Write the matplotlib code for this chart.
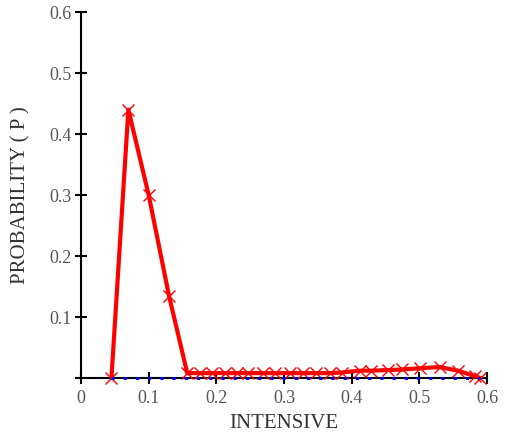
import matplotlib
matplotlib.use("Agg")
import matplotlib.pyplot as plt

intensive = [0.045, 0.070, 0.100, 0.130, 0.157, 0.176, 0.193, 0.213, 0.230, 0.247,
             0.269, 0.287, 0.309, 0.328, 0.348, 0.368, 0.385, 0.412, 0.429, 0.454,
             0.474, 0.501, 0.530, 0.557, 0.582, 0.590]
probability = [0.0, 0.44, 0.30, 0.135, 0.008, 0.008, 0.008, 0.008, 0.008, 0.008,
               0.008, 0.008, 0.008, 0.008, 0.008, 0.008, 0.009, 0.012, 0.012, 0.013,
               0.014, 0.016, 0.018, 0.012, 0.003, 0.0]
baseline_x = [0.045, 0.590]
baseline_y = [0.0, 0.0]

xticks = [0, 0.1, 0.2, 0.3, 0.4, 0.5, 0.6]
yticks = [0.1, 0.2, 0.3, 0.4, 0.5, 0.6]

plt.rcParams['font.family'] = ['Liberation Serif', 'DejaVu Serif']

fig = plt.figure(figsize=(5.05, 4.37), dpi=100)
ax = fig.add_axes([0.1604, 0.135, 0.804, 0.8375])

ax.plot(baseline_x, baseline_y, color='#0000ff', linestyle=(0, (1, 3)), linewidth=2.2,
        zorder=5, clip_on=False)
ax.plot(intensive, probability, color='#ff0000', linewidth=3, zorder=3)
ax.plot(intensive, probability, linestyle='none', marker='x', markersize=9,
        markeredgewidth=1.0, color='#ff0000', zorder=4, clip_on=False)

ax.set_xlim(0, 0.6)
ax.set_ylim(0, 0.6)
ax.set_xticks(xticks)
ax.set_xticklabels(['0', '0.1', '0.2', '0.3', '0.4', '0.5', '0.6'])
ax.set_yticks(yticks)
ax.set_yticklabels(['0.1', '0.2', '0.3', '0.4', '0.5', '0.6'])

for s in ['top', 'right']:
    ax.spines[s].set_visible(False)
for s in ['left', 'bottom']:
    ax.spines[s].set_linewidth(1.5)
    ax.spines[s].set_color('black')
ax.spines['bottom'].set_bounds(-0.008, 0.6)

ax.tick_params(direction='inout', length=9, width=1.5, labelsize=13, labelcolor='#555555', color='black')
ax.tick_params(axis='x', pad=4)
ax.tick_params(axis='y', pad=2)

ax.set_xlabel('INTENSIVE', fontsize=15, color='#333333', labelpad=5)
ax.set_ylabel('PROBABILITY ( P )', fontsize=15, color='#333333', labelpad=14)

fig.savefig('out.png', dpi=100)
